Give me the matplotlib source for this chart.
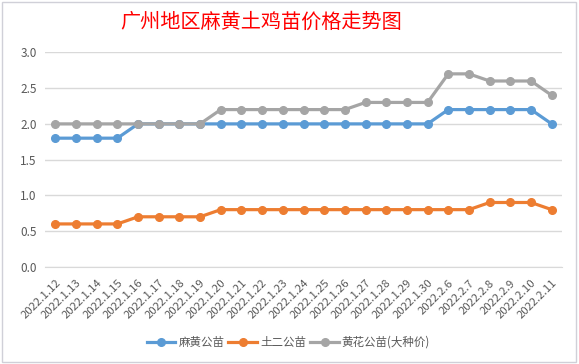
import matplotlib.pyplot as plt
from matplotlib.patches import Rectangle

plt.rcParams['font.family'] = ['Noto Sans CJK SC', 'DejaVu Sans']

dates = ['2022.1.12', '2022.1.13', '2022.1.14', '2022.1.15', '2022.1.16', '2022.1.17',
         '2022.1.18', '2022.1.19', '2022.1.20', '2022.1.21', '2022.1.22', '2022.1.23',
         '2022.1.24', '2022.1.25', '2022.1.26', '2022.1.27', '2022.1.28', '2022.1.29',
         '2022.1.30', '2022.2.6', '2022.2.7', '2022.2.8', '2022.2.9', '2022.2.10',
         '2022.2.11']
mahuang = [1.8, 1.8, 1.8, 1.8, 2.0, 2.0, 2.0, 2.0, 2.0, 2.0, 2.0, 2.0, 2.0,
           2.0, 2.0, 2.0, 2.0, 2.0, 2.0, 2.2, 2.2, 2.2, 2.2, 2.2, 2.0]
tuer = [0.6, 0.6, 0.6, 0.6, 0.7, 0.7, 0.7, 0.7, 0.8, 0.8, 0.8, 0.8, 0.8,
        0.8, 0.8, 0.8, 0.8, 0.8, 0.8, 0.8, 0.8, 0.9, 0.9, 0.9, 0.8]
huanghua = [2.0, 2.0, 2.0, 2.0, 2.0, 2.0, 2.0, 2.0, 2.2, 2.2, 2.2, 2.2, 2.2,
            2.2, 2.2, 2.3, 2.3, 2.3, 2.3, 2.7, 2.7, 2.6, 2.6, 2.6, 2.4]
series = [('麻黄公苗', mahuang, '#5B9BD5'),
          ('土二公苗', tuer, '#ED7D31'),
          ('黄花公苗(大种价)', huanghua, '#A5A5A5')]

fig = plt.figure(figsize=(5.79, 3.64), dpi=100)
fig.patches.append(Rectangle((0.004, 0.006), 0.99, 0.988, transform=fig.transFigure,
                             fill=False, edgecolor='#D0D0D8', linewidth=1))
ax = fig.add_axes([0.0777, 0.267, 0.893, 0.589])

x = range(len(dates))
for name, vals, color in series:
    ax.plot(x, vals, color=color, linewidth=2.3, marker='o', markersize=5.5, label=name)

ax.set_xlim(-0.5, len(dates) - 0.5)
ax.set_ylim(0, 3.0)
ax.set_yticks([0, 0.5, 1.0, 1.5, 2.0, 2.5, 3.0])
ax.set_yticklabels(['0.0', '0.5', '1.0', '1.5', '2.0', '2.5', '3.0'])
ax.set_xticks(list(x))
ax.set_xticklabels(dates, rotation=45, ha='right', va='top', rotation_mode='anchor')
ax.tick_params(axis='x', length=0, labelsize=8.2, labelcolor='#595959', pad=8)
ax.tick_params(axis='y', length=0, labelsize=8.5, labelcolor='#595959', pad=6)
ax.grid(axis='y', color='#D9D9D9', linewidth=1)
ax.set_axisbelow(True)
for s in ['top', 'right', 'left']:
    ax.spines[s].set_visible(False)
ax.spines['bottom'].set_color('#D9D9D9')

fig.text(0.451, 0.938, '广州地区麻黄土鸡苗价格走势图', color='#FF0000', fontsize=14.5,
         fontweight='medium', ha='center', va='center')
fig.legend(loc='center', bbox_to_anchor=(0.498, 0.06), ncol=3, frameon=False,
           fontsize=8.3, handlelength=2.5, columnspacing=0.35, handletextpad=0.25,
           labelcolor='#595959')

fig.savefig('out.png', dpi=100)
